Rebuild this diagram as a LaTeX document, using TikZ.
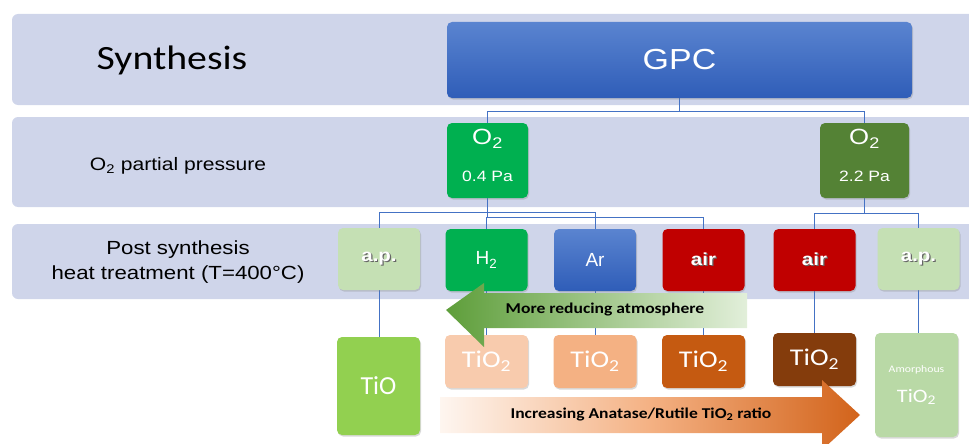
\documentclass[tikz,border=0pt]{standalone}
\usepackage{fontspec}
\setmainfont[FakeStretch=1.17]{Liberation Sans}
\newfontfamily\arialn{Liberation Sans}
\newfontfamily\carl[FakeStretch=1.17]{Carlito}
\newfontfamily\carln{Carlito}
\usetikzlibrary{shadows}
\pgfdeclarelayer{bandlayer}
\pgfdeclarelayer{connlayer}
\pgfsetlayers{bandlayer,connlayer,main}
\definecolor{bandc}{HTML}{CFD5EA}
\definecolor{gpctop}{HTML}{5A84D0}
\definecolor{gpcbot}{HTML}{2F5DB8}
\definecolor{brightg}{HTML}{00B050}
\definecolor{oliveg}{HTML}{548235}
\definecolor{paleg}{HTML}{C5E0B4}
\definecolor{amorg}{HTML}{B9D9A6}
\definecolor{redc}{HTML}{C00000}
\definecolor{limeg}{HTML}{92D050}
\definecolor{or1}{HTML}{F8CBAD}
\definecolor{or2}{HTML}{F4B183}
\definecolor{or3}{HTML}{C55A11}
\definecolor{or4}{HTML}{843C0C}
\definecolor{connc}{HTML}{4472C4}
\definecolor{garrowd}{HTML}{5E9E3A}
\definecolor{garrowl}{HTML}{E2EFDA}
\definecolor{oarrowd}{HTML}{D2631A}
\definecolor{oarrowm}{HTML}{F4B183}
\definecolor{oarrowl}{HTML}{FEF6F0}
\newcommand\shtxt[1]{\rlap{\kern1.2pt\raisebox{-1.2pt}{\color{black!60}#1}}#1}
\tikzset{
  band/.style={fill=bandc, draw=none, rounded corners=6pt},
  box/.style={rounded corners=5pt, draw=none, text=white, align=center, inner sep=0pt,
    drop shadow={shadow xshift=1pt, shadow yshift=-1.5pt, opacity=0.3}},
  conn/.style={draw=connc, line width=0.8pt},
  lbl/.style={align=center, text=black, inner sep=0pt},
  wt/.style={align=center, text=white, inner sep=0pt},
}
\begin{document}
\begin{tikzpicture}[x=1pt,y=-1pt]
\useasboundingbox (0,0) rectangle (969,444);
\clip (0,0) rectangle (969,444);
% bands
\begin{pgfonlayer}{bandlayer}
\fill[band] (12,14) rectangle (990,105);
\fill[band] (12,117) rectangle (990,207);
\fill[band] (12,224) rectangle (990,299);
\end{pgfonlayer}
% left labels
\node[lbl, font=\carl\fontsize{34}{40}\selectfont] (syn) at (172,60) {Synthesis};
\node[lbl, font=\fontsize{18}{22}\selectfont] (o2lab) at (178,166) {O\textsubscript{2} partial pressure};
\node[lbl, font=\fontsize{19}{25}\selectfont] (ptlab) at (178,262) {Post synthesis\\heat treatment (T=400°C)};
% nodes
\node[box, top color=gpctop, bottom color=gpcbot, minimum width=465pt, minimum height=76pt,
  font=\fontsize{29}{34}\selectfont] (gpc) at (679.5,60) {GPC};
\node[box, fill=brightg, minimum width=81pt, minimum height=75pt] (o2a) at (487.5,160.5) {};
\node[box, fill=oliveg, minimum width=89pt, minimum height=75pt] (o2b) at (864.5,160.5) {};
\node[wt, font=\fontsize{22}{24}\selectfont] (o2at) at (487.5,139) {O\textsubscript{2}};
\node[wt, font=\fontsize{15}{18}\selectfont] (o2ap) at (487.5,176) {0.4 Pa};
\node[wt, font=\fontsize{22}{24}\selectfont] (o2bt) at (864.5,139) {O\textsubscript{2}};
\node[wt, font=\fontsize{15}{18}\selectfont] (o2bp) at (864.5,176) {2.2 Pa};
\tikzset{r3/.style={box, minimum width=82pt, minimum height=62pt, font=\fontsize{17}{20}\selectfont}}
\node[r3, fill=paleg, font=\bfseries\fontsize{17.5}{20}\selectfont] (ap1) at (379,259) {\shtxt{a.p.}};
\node[r3, fill=brightg, font=\arialn\fontsize{19}{22}\selectfont] (h2) at (486.5,260) {H\textsubscript{2}};
\node[r3, top color=gpctop, bottom color=gpcbot, font=\arialn\fontsize{19}{22}\selectfont] (ar) at (595,260) {Ar};
\node[r3, fill=redc, font=\bfseries\fontsize{17.5}{20}\selectfont] (air1) at (703.5,260) {\shtxt{air}};
\node[r3, fill=redc, font=\bfseries\fontsize{17.5}{20}\selectfont] (air2) at (814.5,260) {\shtxt{air}};
\node[r3, fill=paleg, font=\bfseries\fontsize{17.5}{20}\selectfont] (ap2) at (918.5,259) {\shtxt{a.p.}};
% row 4
\tikzset{r4/.style={box, minimum width=83pt, minimum height=53pt, font=\carl\fontsize{24}{28}\selectfont}}
\node[box, fill=limeg, minimum width=83pt, minimum height=98pt, font=\carln\fontsize{26}{28}\selectfont] (tio) at (378.5,386) {TiO};
\node[r4, fill=or1] (t1) at (486.5,361.5) {TiO\textsubscript{2}};
\node[r4, fill=or2] (t2) at (595,361.5) {TiO\textsubscript{2}};
\node[r4, fill=or3] (t3) at (703.5,361.5) {TiO\textsubscript{2}};
\node[r4, fill=or4] (t4) at (814.5,359.5) {TiO\textsubscript{2}};
\node[box, fill=amorg, minimum width=83pt, minimum height=104pt] (am) at (916.5,385) {};
\node[wt, font=\carl\fontsize{10}{12}\selectfont] (amt1) at (916.5,370) {Amorphous};
\node[wt, font=\carl\fontsize{19}{22}\selectfont] (amt2) at (916.5,397) {TiO\textsubscript{2}};
% connectors
\begin{pgfonlayer}{connlayer}
\draw[conn] (gpc.south) -- ++(0,13) -| (o2a.north);
\draw[conn] (gpc.south) -- ++(0,13) -| (o2b.north);
\draw[conn] (o2a.south) -- ++(0,14) -| (ap1.north);
\draw[conn] (o2a.south) -- ++(0,14) -| (ar.north);
\draw[conn] (o2a.south) -- ++(0,19) -| (h2.north);
\draw[conn] (o2a.south) -- ++(0,19) -| (air1.north);
\draw[conn] (o2b.south) -- ++(0,15) -| (air2.north);
\draw[conn] (o2b.south) -- ++(0,15) -| (ap2.north);
\draw[conn] (ap1.south) -- (ap1.south |- tio.north);
\draw[conn] (h2.south) -- (h2.south |- t1.north);
\draw[conn] (ar.south) -- (ar.south |- t2.north);
\draw[conn] (air1.south) -- (air1.south |- t3.north);
\draw[conn] (air2.south) -- (air2.south |- t4.north);
\draw[conn] (ap2.south) -- (ap2.south |- am.north);
\end{pgfonlayer}
% arrows
\shade[left color=garrowd, right color=garrowl]
  (446,310) -- (484,283) -- (484,293) -- (747,293) -- (747,328) -- (484,328) -- (484,347) -- cycle;
\node[lbl, font=\carl\bfseries\fontsize{15}{18}\selectfont] (redtxt) at (605,310) {More reducing atmosphere};
\shade[left color=oarrowl, right color=oarrowd, middle color=oarrowm]
  (440,397) -- (822,397) -- (822,380) -- (860,415) -- (822,450) -- (822,433) -- (440,433) -- cycle;
\node[lbl, font=\carl\bfseries\fontsize{15}{18}\selectfont] (inctxt) at (641,414) {Increasing Anatase/Rutile TiO\textsubscript{2} ratio};
\end{tikzpicture}
\end{document}
